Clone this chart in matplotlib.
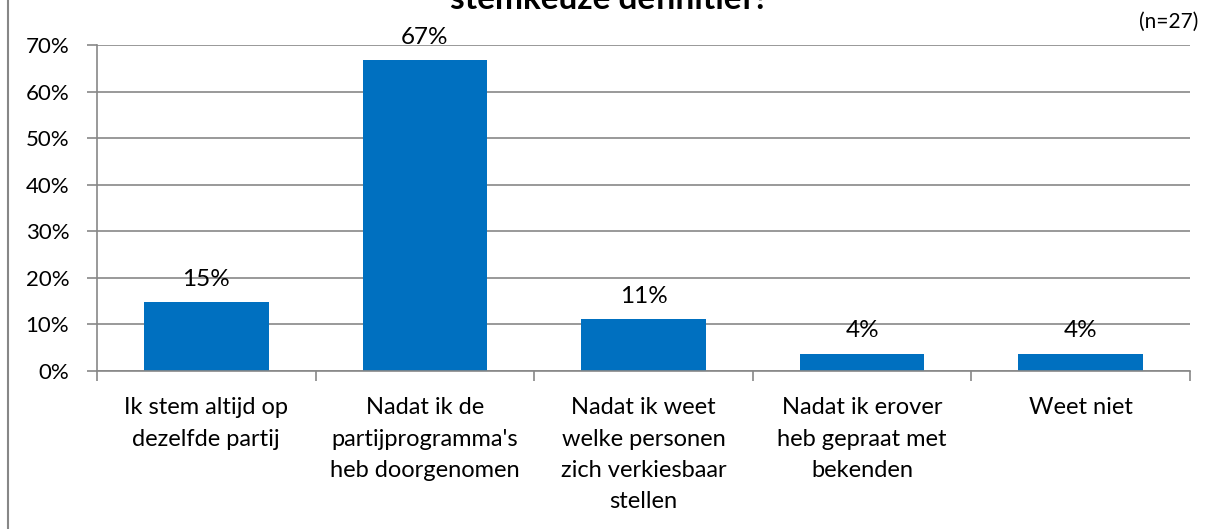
import matplotlib
matplotlib.use("Agg")
import matplotlib.pyplot as plt
from matplotlib.lines import Line2D

categories = ["Ik stem altijd op\ndezelfde partij",
              "Nadat ik de\npartijprogramma's\nheb doorgenomen",
              "Nadat ik weet\nwelke personen\nzich verkiesbaar\nstellen",
              "Nadat ik erover\nheb gepraat met\nbekenden",
              "Weet niet"]
values = [14.8, 66.7, 11.1, 3.7, 3.7]
labels = ["15%", "67%", "11%", "4%", "4%"]
yticks = [0, 10, 20, 30, 40, 50, 60, 70]
title = "stemkeuze definitief?"
note = "(n=27)"

plt.rcParams['font.family'] = ['Lato', 'DejaVu Sans']

W, H = 1208, 529
fig = plt.figure(figsize=(W/100, H/100), dpi=100)
ax = fig.add_axes([97/W, 1-371/H, (1190-97)/W, (371-45)/H])

x = list(range(len(categories)))
ax.bar(x, values, width=0.57, color="#0070C0", zorder=3)
ax.set_xlim(-0.5, len(categories)-0.5)
ax.set_ylim(0, 70)
ax.set_yticks(yticks)
ax.set_yticklabels([f"{t}%" for t in yticks], fontsize=16)
ax.set_xticks(x)
ax.set_xticklabels(categories, fontsize=17, linespacing=1.6, va='top')
ax.tick_params(axis='x', length=0, pad=19)
ax.set_xticks([i-0.5 for i in range(len(categories)+1)], minor=True)
ax.tick_params(axis='x', which='minor', length=7, color='#878787', width=1.2)
ax.tick_params(axis='y', length=7, color='#878787', width=1.2, pad=13)
ax.grid(axis='y', color='#878787', linewidth=1.2, zorder=0)
for s in ['top', 'right']:
    ax.spines[s].set_visible(False)
for s in ['left', 'bottom']:
    ax.spines[s].set_color('#878787')
    ax.spines[s].set_linewidth(1.2)
ax.spines['bottom'].set_zorder(4)

for xi, v, lab in zip(x, values, labels):
    ax.annotate(lab, (xi, v), xytext=(0, 9), textcoords='offset points',
                ha='center', va='bottom', fontsize=17.5)

fig.text(609/W, 1-9/H, title, ha='center', va='baseline', fontsize=24, fontweight='bold')
fig.text(1198/W, 1-22/H, note, ha='right', va='center', fontsize=15)
fig.add_artist(Line2D([8/W, 8/W], [0, 1], color='#878787', linewidth=1.5))

fig.savefig("out.png", dpi=100)
